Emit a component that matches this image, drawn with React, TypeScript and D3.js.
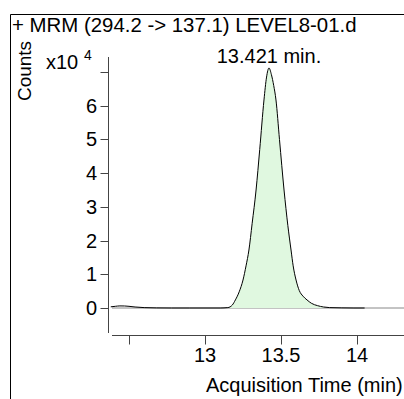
import React from "react";
import * as d3 from "d3";

const title = "+ MRM (294.2 -> 137.1) LEVEL8-01.d";
const peakLabel = "13.421 min.";
const xLabel = "Acquisition Time (min)";
const yLabel = "Counts";

const times = [12.38, 12.41, 12.44, 12.47, 12.5, 12.54, 12.6, 12.68, 12.78, 12.9, 13.0, 13.1, 13.15, 13.18, 13.2, 13.225, 13.25, 13.27, 13.289, 13.31, 13.336, 13.36, 13.388, 13.405, 13.421, 13.437, 13.452, 13.467, 13.49, 13.52, 13.545, 13.566, 13.58, 13.599, 13.62, 13.645, 13.671, 13.7, 13.74, 13.78, 13.82, 13.9, 13.98, 14.05];
const counts = [350, 500, 620, 600, 500, 300, 120, 30, 0, 0, 0, 0, 120, 900, 2400, 4800, 8300, 12500, 17200, 25000, 35000, 47000, 61700, 68500, 71200, 69200, 66000, 61700, 50000, 35000, 24500, 17200, 12500, 8300, 5200, 3500, 2400, 1400, 700, 300, 120, 40, 0, 0];

const fillStart = 13.15;
const fillEnd = 13.8;

const yTicks = [0, 1, 2, 3, 4, 5, 6, 7];
const yTickLabels = ["0", "1", "2", "3", "4", "5", "6", ""];
const xTicks = [12.5, 13, 13.5, 14];
const xTickLabels = ["", "13", "13.5", "14"];

const FONT = "'Liberation Sans', Arial, sans-serif";

export default function App() {
  const W = 404, H = 399;
  const x = d3.scaleLinear().domain([13, 14]).range([205, 357]);
  const y = d3.scaleLinear().domain([0, 70000]).range([308, 72]);
  const pts = times.map((t, i) => [t, counts[i]] as [number, number]);
  const line = d3.line<[number, number]>().x(d => x(d[0])).y(d => y(d[1])).curve(d3.curveMonotoneX);
  const fillPts = pts.filter(d => d[0] >= fillStart && d[0] <= fillEnd);
  const area = d3.area<[number, number]>().x(d => x(d[0])).y0(y(0)).y1(d => y(d[1])).curve(d3.curveMonotoneX);
  const axisColor = "#444";
  const yAxisX = 108.5;
  const xAxisY = 335.5;
  return (
    <svg width={W} height={H} style={{ position: "absolute", left: 0, top: 0, background: "#fff" }} fontFamily={FONT}>
      <rect x={0} y={0} width={W} height={H} fill="#fff" />
      <path d={`M10.5,${H} V14.5 H${W}`} fill="none" stroke="#000" strokeWidth={1} />
      <text x={12} y={32} fontSize={20.4} fill="#000">{title}</text>
      <text transform={`translate(31,71) rotate(-90)`} textAnchor="middle" fontSize={19} fill="#000">{yLabel}</text>
      <text x={46} y={69} fontSize={20} fill="#000">x10</text>
      <text x={84} y={60} fontSize={14} fill="#000">4</text>
      <line x1={yAxisX} x2={yAxisX} y1={57} y2={333} stroke={axisColor} strokeWidth={1} />
      {yTicks.map((v, i) => (
        <g key={"y" + i}>
          <line x1={yAxisX - 8} x2={yAxisX} y1={Math.round(y(v * 1e4)) + 0.5} y2={Math.round(y(v * 1e4)) + 0.5} stroke={axisColor} />
          <text x={97} y={y(v * 1e4) + 7} textAnchor="end" fontSize={20} fill="#000">{yTickLabels[i]}</text>
        </g>
      ))}
      <line x1={112} x2={W} y1={xAxisY} y2={xAxisY} stroke={axisColor} strokeWidth={1} />
      {xTicks.map((v, i) => (
        <g key={"x" + i}>
          <line x1={Math.round(x(v)) + 0.5} x2={Math.round(x(v)) + 0.5} y1={xAxisY} y2={xAxisY + 9} stroke={axisColor} />
          <text x={x(v)} y={362} textAnchor="middle" fontSize={20} fill="#000">{xTickLabels[i]}</text>
        </g>
      ))}
      <text x={206} y={392} fontSize={20} fill="#000">{xLabel}</text>
      <line x1={112} x2={W} y1={y(0)} y2={y(0)} stroke="#888" strokeWidth={1} />
      <path d={area(fillPts) || ""} fill="#e0f8e0" stroke="none" />
      <path d={line(pts) || ""} fill="none" stroke="#000" strokeWidth={1} />
      <text x={269} y={63} textAnchor="middle" fontSize={20} fill="#000">{peakLabel}</text>
    </svg>
  );
}
